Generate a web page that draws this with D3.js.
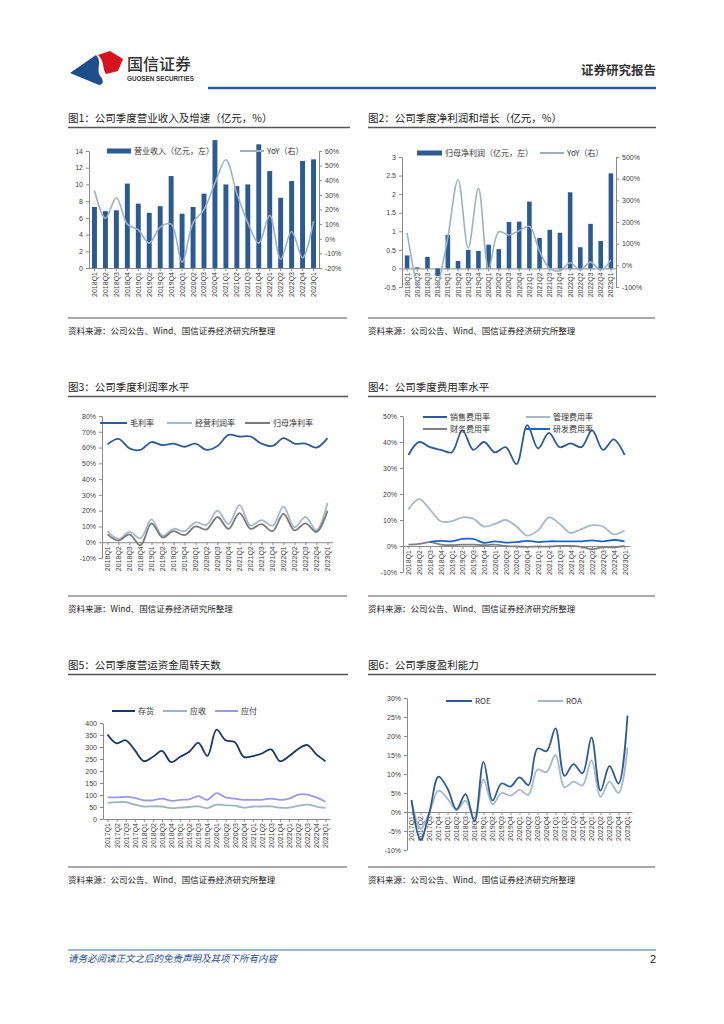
<!DOCTYPE html>
<html>
<head>
<meta charset="utf-8">
<script src="https://cdn.jsdelivr.net/npm/d3@7"></script>
<style>
body { margin: 0; background: #fff; }
svg { display: block; }
</style>
</head>
<body>
<svg id="page" width="724" height="1024"></svg>
<script>
// quarter labels
var q18 = ["2018Q1","2018Q2","2018Q3","2018Q4","2019Q1","2019Q2","2019Q3","2019Q4","2020Q1","2020Q2","2020Q3","2020Q4",
           "2021Q1","2021Q2","2021Q3","2021Q4","2022Q1","2022Q2","2022Q3","2022Q4","2023Q1"];
var q17 = ["2017Q1","2017Q2","2017Q3","2017Q4","2018Q1","2018Q2","2018Q3","2018Q4","2019Q1","2019Q2","2019Q3","2019Q4",
           "2020Q1","2020Q2","2020Q3","2020Q4","2021Q1","2021Q2","2021Q3","2021Q4","2022Q1","2022Q2","2022Q3","2022Q4","2023Q1"];

// fig 1
var revenue    = [7.3,6.8,6.9,10.1,7.7,6.6,7.4,11.0,6.5,7.3,8.9,15.3,10.0,9.8,10.0,14.8,11.6,8.4,10.4,12.8,13.0];
var revenueYoY = [33,14,28,10,6,-3,8,10,-16,11,20,38,54,31,11,-3,16,-14,5,-13,12];
var revTicks   = [0,2,4,6,8,10,12,14];
var revYoYTicks = [-20,-10,0,10,20,30,40,50,60];

// fig 2
var profit    = [0.35,0.03,0.31,-0.2,0.9,0.2,0.5,0.47,0.64,0.52,1.25,1.26,1.8,0.82,1.04,0.96,2.05,0.57,1.2,0.74,2.56];
var profitYoY = [150,-100,-250,-100,130,395,80,355,-15,155,140,160,180,65,-15,-25,12,-22,15,-22,25];
var profitTicks = [-0.5,0,0.5,1,1.5,2,2.5,3];
var profitYoYTicks = [-100,0,100,200,300,400,500];

// fig 3
var grossMargin = [62,65.5,59.5,58.5,63.5,61.5,62.5,60.5,62.5,58.5,61,68,67,67,62.5,61,66,62.5,62.5,60,66];
var opMargin    = [7,2,6.5,2.5,14.5,4,8.5,7,12.5,11,20,11.5,23.5,10.5,14,10.5,22.5,9.5,16,7.5,25];
var netMargin   = [5,1,5,-2,12,3,7,4.5,10,8,16,8.5,18.5,8.5,11.5,7,18,7.5,12,6.5,20];
var marginTicks = [-10,0,10,20,30,40,50,60,70,80];

// fig 4
var salesRate = [35,40,38,37,36,44.5,37,40,36,38,31.5,46.5,37.5,43.5,38,39.5,38,44.5,37,41,35];
var adminRate = [14,18,14,9.5,9.5,11,10.5,7.5,8.5,10,7.5,4,6,11,8.5,5,6.5,8,7.5,4.5,6];
var finRate   = [0.5,0.8,1.5,0.5,0.3,0.5,0.5,0.3,0.5,0,-0.2,-0.3,-0.2,-0.2,0,0,-0.3,-1.2,-0.5,-0.5,0];
var rdRate    = [null,null,1.6,2,1.8,2.7,2.7,1.2,1.8,1.3,1.5,2,1.5,1.8,1.8,1.8,1.8,2.2,1.8,2.3,1.8];
var rateTicks = [-10,0,10,20,30,40,50];

// fig 5
var invDays = [352,315,328,287,241,259,284,237,259,280,317,263,372,328,321,259,262,273,290,241,262,292,308,269,241];
var arDays  = [67,70,70,60,52,53,52,45,47,50,53,45,60,57,56,47,52,52,53,47,47,55,60,52,46];
var apDays  = [90,90,92,88,78,78,85,76,80,82,95,80,108,90,85,80,80,80,85,80,85,102,102,90,72];
var daysTicks = [0,50,100,150,200,250,300,350,400];

// fig 6
var roe = [3.2,-7.4,0,9.3,6.2,0.7,4.7,-2.5,13.2,3,7.5,6.7,9.1,7.1,16.7,16,22,9.5,12.6,10.2,19.6,5.6,12.1,7.5,25.4];
var roa = [3,-4.5,0,5.6,3.5,0.5,3,-2,8.6,2,5,4.3,5.8,4.5,11.2,10.5,15,6.5,8,7,13.6,4,8,5,17];
var roeTicks = [-10,-5,0,5,10,15,20,25,30];

var svg = d3.select("#page");
var cnFont = '"Noto Sans CJK SC","Noto Sans",sans-serif';
var numFont = '"Liberation Sans",Arial,sans-serif';
var pct = function(d) { return d + "%"; };
var smooth = d3.curveCatmullRom.alpha(0.5);

function styleAxis(g) {
    g.selectAll("path, line").attr("stroke", "#8a8a8a");
    g.selectAll("text").style("font-family", numFont).style("font-size", "7px").attr("fill", "#404040");
}

function yLeft(y, ticks, fmt, x0) {
    var g = svg.append("g").attr("transform", "translate(" + x0 + ",0)")
               .call(d3.axisLeft(y).tickValues(ticks).tickFormat(fmt).tickSize(3).tickSizeOuter(0).tickPadding(3));
    styleAxis(g);
}

function yRight(y, ticks, fmt, x0) {
    var g = svg.append("g").attr("transform", "translate(" + x0 + ",0)")
               .call(d3.axisRight(y).tickValues(ticks).tickFormat(fmt).tickSize(3).tickSizeOuter(0).tickPadding(3));
    styleAxis(g);
}

function xBottom(x, y0) {
    var g = svg.append("g").attr("transform", "translate(0," + y0 + ")")
               .call(d3.axisBottom(x).tickSize(3).tickSizeOuter(0));
    styleAxis(g);
    g.selectAll("text")
     .attr("transform", "rotate(-90)")
     .attr("text-anchor", "end")
     .attr("x", -4)
     .attr("y", 0)
     .attr("dy", "0.35em");
}

function title(x, y, x2, label) {
    svg.append("text").attr("x", x).attr("y", y)
       .style("font-family", cnFont).style("font-size", "10.5px").attr("fill", "#222")
       .text(label);
    svg.append("line").attr("x1", x).attr("x2", x2).attr("y1", y + 5.5).attr("y2", y + 5.5)
       .attr("stroke", "#555").attr("stroke-width", 1.3);
}

function source(x, y, x2, label) {
    svg.append("line").attr("x1", x).attr("x2", x2).attr("y1", y).attr("y2", y)
       .attr("stroke", "#555").attr("stroke-width", 1);
    svg.append("text").attr("x", x).attr("y", y + 16)
       .style("font-family", cnFont).style("font-size", "8.5px").attr("fill", "#222")
       .text(label);
}

function legendLine(x1, x2, y, color, label) {
    svg.append("line").attr("x1", x1).attr("x2", x2).attr("y1", y).attr("y2", y)
       .attr("stroke", color).attr("stroke-width", 2);
    svg.append("text").attr("x", x2 + 3).attr("y", y + 3)
       .style("font-family", cnFont).style("font-size", "8px").attr("fill", "#333")
       .text(label);
}

function legendBar(x1, x2, y, color, label) {
    svg.append("rect").attr("x", x1).attr("y", y - 2.5).attr("width", x2 - x1).attr("height", 5)
       .attr("fill", color);
    svg.append("text").attr("x", x2 + 3).attr("y", y + 3)
       .style("font-family", cnFont).style("font-size", "8px").attr("fill", "#333")
       .text(label);
}

function drawLines(x, y, cats, series, offset) {
    series.forEach(function(s) {
        var pts = cats.map(function(q, i) { return {q: q, v: s.values[i]}; });
        var line = d3.line()
                     .defined(function(d) { return d.v != null; })
                     .x(function(d) { return x(d.q) + offset; })
                     .y(function(d) { return y(d.v); })
                     .curve(smooth);
        var p = svg.append("path").datum(pts)
                   .attr("fill", "none")
                   .attr("stroke", s.color)
                   .attr("stroke-width", s.width || 1.8)
                   .attr("d", line);
        if (s.clip) p.attr("clip-path", "url(#" + s.clip + ")");
    });
}

function drawBars(x, y, cats, values, color) {
    svg.append("g").selectAll("rect")
       .data(cats.map(function(q, i) { return {q: q, v: values[i]}; }))
       .enter().append("rect")
       .attr("x", function(d) { return x(d.q); })
       .attr("y", function(d) { return y(Math.max(0, d.v)); })
       .attr("width", x.bandwidth())
       .attr("height", function(d) { return Math.abs(y(d.v) - y(0)); })
       .attr("fill", color);
}

// ---------- header / footer ----------
function header() {
    svg.append("path").attr("d", "M70,73 L96,55 C103,62 95,70 101,77 C104,81 103,85 99,85 Z").attr("fill", "#1f4f8a");
    svg.append("path").attr("d", "M98,55 L110,51 L123,59 L118,71 L106,74 C102,68 105,62 98,55 Z").attr("fill", "#d7131f");
    svg.append("text").attr("x", 127).attr("y", 70)
       .style("font-family", cnFont).style("font-size", "16px").style("font-weight", 500).attr("fill", "#333")
       .text("国信证券");
    svg.append("text").attr("x", 127).attr("y", 81)
       .style("font-family", numFont).style("font-size", "6.3px").style("font-weight", "bold").attr("fill", "#333")
       .text("GUOSEN SECURITIES");
    svg.append("line").attr("x1", 208).attr("x2", 656).attr("y1", 88).attr("y2", 88)
       .attr("stroke", "#2b5d95").attr("stroke-width", 2.5);
    svg.append("text").attr("x", 656).attr("y", 75).attr("text-anchor", "end")
       .style("font-family", cnFont).style("font-size", "12.5px").style("font-weight", "bold").attr("fill", "#333")
       .text("证券研究报告");

    svg.append("line").attr("x1", 68).attr("x2", 656).attr("y1", 950).attr("y2", 950)
       .attr("stroke", "#3a6ea5").attr("stroke-width", 1);
    svg.append("text").attr("x", 68).attr("y", 962)
       .style("font-family", cnFont).style("font-size", "9.5px").style("font-style", "italic").attr("fill", "#1f4e8c")
       .text("请务必阅读正文之后的免责声明及其项下所有内容");
    svg.append("text").attr("x", 656).attr("y", 963).attr("text-anchor", "end")
       .style("font-family", numFont).style("font-size", "11px").attr("fill", "#222")
       .text("2");
}

// ---------- fig 1 ----------
function fig1() {
    title(68, 122, 350, "图1：公司季度营业收入及增速（亿元，%）");
    var x = d3.scaleBand().domain(q18).range([89, 319]).paddingInner(0.55).paddingOuter(0.275);
    var y = d3.scaleLinear().domain([0, 14]).range([268, 151]);
    var yr = d3.scaleLinear().domain([-20, 60]).range([268, 151]);
    yLeft(y, revTicks, d3.format("d"), 89);
    yRight(yr, revYoYTicks, pct, 319);
    xBottom(x, 268);
    drawBars(x, y, q18, revenue, "#2c5b94");
    drawLines(x, yr, q18, [{values: revenueYoY, color: "#9db1c5", width: 1.6}], x.bandwidth() / 2);
    legendBar(107, 131, 151, "#2c5b94", "营业收入（亿元，左）");
    legendLine(240, 264, 151, "#9db1c5", "YoY（右）");
    source(68, 318, 347, "资料来源：公司公告、Wind、国信证券经济研究所整理");
}

// ---------- fig 2 ----------
function fig2() {
    title(368, 122, 656, "图2：公司季度净利润和增长（亿元，%）");
    var x = d3.scaleBand().domain(q18).range([402, 616]).paddingInner(0.55).paddingOuter(0.275);
    var y = d3.scaleLinear().domain([-0.5, 3]).range([287, 157]);
    var yr = d3.scaleLinear().domain([-100, 500]).range([287, 157]);
    svg.append("clipPath").attr("id", "clip2").append("rect")
       .attr("x", 402).attr("y", 157).attr("width", 214).attr("height", 130);
    yLeft(y, profitTicks, function(d) { return String(d); }, 402);
    yRight(yr, profitYoYTicks, pct, 616);
    xBottom(x, y(0));
    drawBars(x, y, q18, profit, "#2c5b94");
    drawLines(x, yr, q18, [{values: profitYoY, color: "#9db1c5", width: 1.6, clip: "clip2"}], x.bandwidth() / 2);
    legendBar(417, 442, 153, "#2c5b94", "归母净利润（亿元，左）");
    legendLine(540, 564, 153, "#9db1c5", "YoY（右）");
    source(368, 318, 655, "资料来源：公司公告、Wind、国信证券经济研究所整理");
}

// ---------- fig 3 ----------
function fig3() {
    title(68, 391, 348, "图3：公司季度利润率水平");
    var x = d3.scalePoint().domain(q18).range([102, 333]).padding(0.5);
    var y = d3.scaleLinear().domain([-10, 80]).range([558, 416]);
    yLeft(y, marginTicks, pct, 102);
    xBottom(x, y(0));
    drawLines(x, y, q18, [
        {values: grossMargin, color: "#2f5b93"},
        {values: opMargin, color: "#a6b9cc"},
        {values: netMargin, color: "#7a7a7a"}
    ], 0);
    legendLine(100, 127, 423, "#2f5b93", "毛利率");
    legendLine(167, 192, 423, "#a6b9cc", "经营利润率");
    legendLine(245, 270, 423, "#7a7a7a", "归母净利率");
    source(68, 596, 347, "资料来源：Wind、国信证券经济研究所整理");
}

// ---------- fig 4 ----------
function fig4() {
    title(368, 391, 656, "图4：公司季度费用率水平");
    var x = d3.scalePoint().domain(q18).range([403, 630]).padding(0.5);
    var y = d3.scaleLinear().domain([-10, 50]).range([572, 416]);
    yLeft(y, rateTicks, pct, 403);
    xBottom(x, y(0));
    drawLines(x, y, q18, [
        {values: adminRate, color: "#a6b7c9"},
        {values: finRate, color: "#808080"},
        {values: rdRate, color: "#1f63c6"},
        {values: salesRate, color: "#2f5b93"}
    ], 0);
    legendLine(423, 447, 417, "#2f5b93", "销售费用率");
    legendLine(526, 550, 417, "#a6b7c9", "管理费用率");
    legendLine(423, 447, 429, "#808080", "财务费用率");
    legendLine(526, 550, 429, "#1f63c6", "研发费用率");
    source(368, 596, 655, "资料来源：公司公告、Wind、国信证券经济研究所整理");
}

// ---------- fig 5 ----------
function fig5() {
    title(68, 669, 348, "图5：公司季度营运资金周转天数");
    var x = d3.scalePoint().domain(q17).range([103, 330]).padding(0.5);
    var y = d3.scaleLinear().domain([0, 400]).range([819, 723]);
    yLeft(y, daysTicks, d3.format("d"), 103);
    xBottom(x, y(0));
    drawLines(x, y, q17, [
        {values: arDays, color: "#9fb3c3"},
        {values: apDays, color: "#9a9ae0"},
        {values: invDays, color: "#1c3766"}
    ], 0);
    legendLine(112, 135, 711, "#1c3766", "存货");
    legendLine(163, 187, 711, "#9fb3c3", "应收");
    legendLine(215, 238, 711, "#9a9ae0", "应付");
    source(68, 867, 347, "资料来源：公司公告、Wind、国信证券经济研究所整理");
}

// ---------- fig 6 ----------
function fig6() {
    title(368, 669, 656, "图6：公司季度盈利能力");
    var x = d3.scalePoint().domain(q17).range([407, 632]).padding(0.5);
    var y = d3.scaleLinear().domain([-10, 30]).range([850, 698]);
    yLeft(y, roeTicks, pct, 407);
    xBottom(x, y(0));
    drawLines(x, y, q17, [
        {values: roa, color: "#a6b7c9"},
        {values: roe, color: "#2f5b93"}
    ], 0);
    legendLine(446, 472, 701, "#2f5b93", "ROE");
    legendLine(538, 563, 701, "#a6b7c9", "ROA");
    source(368, 867, 655, "资料来源：公司公告、Wind、国信证券经济研究所整理");
}

header();
fig1();
fig2();
fig3();
fig4();
fig5();
fig6();
</script>
</body>
</html>
